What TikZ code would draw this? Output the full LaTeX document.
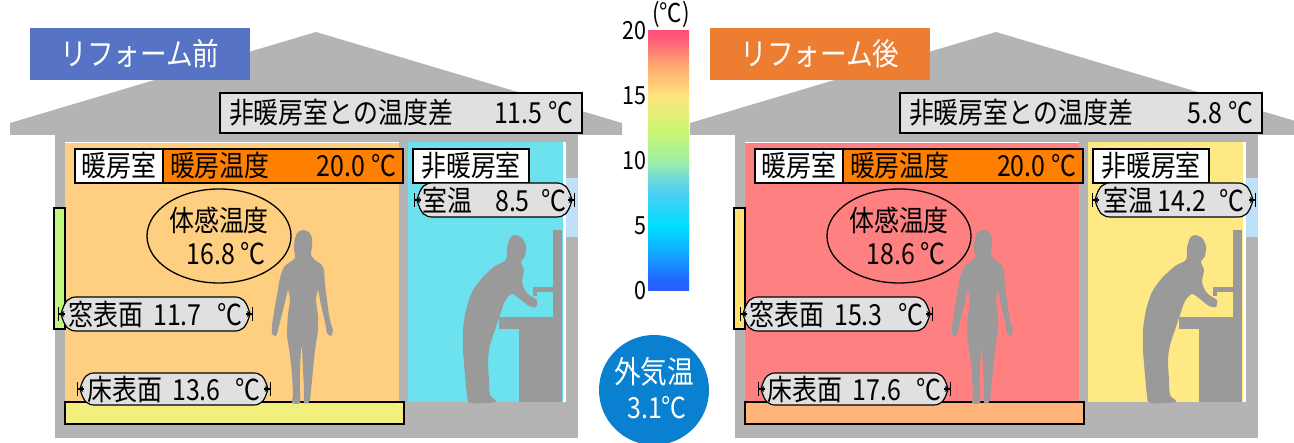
\documentclass[tikz,border=0pt]{standalone}
\usepackage{fontspec}
\setmainfont{Noto Sans CJK JP}[FakeStretch=0.86]
\usetikzlibrary{arrows.meta,shapes.geometric,calc}

% palette
\definecolor{wallgray}{HTML}{B4B4B4}
\definecolor{persongray}{HTML}{9A9A9A}
\definecolor{boxgray}{HTML}{E0E0E0}
\definecolor{heatorange}{HTML}{FF8000}
\definecolor{skyblue}{HTML}{BEE0F8}
\definecolor{titleblue}{HTML}{5673C5}
\definecolor{titleorange}{HTML}{ED7D31}
\definecolor{airblue}{HTML}{0A80D0}
\definecolor{warmA}{HTML}{FECF80}
\definecolor{coldA}{HTML}{6BE2EE}
\definecolor{floorA}{HTML}{F3EF7F}
\definecolor{winA}{HTML}{C0F77E}
\definecolor{warmB}{HTML}{FF8080}
\definecolor{coldB}{HTML}{FFE985}
\definecolor{floorB}{HTML}{FFB57A}
\definecolor{winB}{HTML}{FFE070}
% temperature scale stops
\definecolor{th0}{HTML}{2A5CFF}
\definecolor{th1}{HTML}{2266FF}
\definecolor{th2}{HTML}{12A8FF}
\definecolor{th3}{HTML}{00DEFF}
\definecolor{th4}{HTML}{4CCFF6}
\definecolor{th5}{HTML}{72DDD4}
\definecolor{th6}{HTML}{A2EFA2}
\definecolor{th7}{HTML}{CBF770}
\definecolor{th8}{HTML}{FFE37C}
\definecolor{th9}{HTML}{FFA46E}
\definecolor{th10}{HTML}{FF6078}
\definecolor{th11}{HTML}{FF5078}

\pgfdeclareverticalshading{thermo}{100bp}{%
 color(0bp)=(th0); color(25bp)=(th0); color(27.1bp)=(th1); color(32.3bp)=(th2);
 color(37.5bp)=(th3); color(43.8bp)=(th4); color(46.9bp)=(th5); color(50.2bp)=(th6);
 color(56bp)=(th7); color(62.7bp)=(th8); color(68.8bp)=(th9); color(73.1bp)=(th10);
 color(75bp)=(th11); color(100bp)=(th11)}

% walls, rooms, people and the sink of one house
\newcommand\housebody[4]{%
 \fill[wallgray] (10,135) -- (10,123) -- (316,32) -- (622,123) -- (622,135) -- cycle;
 \fill[wallgray] (55,134) rectangle (578,438);
 \fill[#1] (65,142) rectangle (399,402);
 \draw[white, line width=1.5pt] (65,142.5) -- (399,142.5);
 \fill[#2] (408,142) rectangle (563,402);
 \fill[white] (563,142) rectangle (566,402);
 \fill[skyblue] (566,178) rectangle (578,237);
 \filldraw[fill=#3, draw=black, line width=1.5pt] (65,402) rectangle (404,424);
 \filldraw[fill=#4, draw=black, line width=1.5pt] (54,208) rectangle (65,329);
 % standing woman
 \fill[person] plot[smooth cycle, tension=0.4] coordinates {
  (303,230) (309,232) (312,238) (312,247) (311,255) (316,261) (321,264) (324,270)
  (325,285) (327,300) (329,315) (331,324) (333,330) (331,336) (327,333) (325,322)
  (321,305) (318,290) (316,300) (318,316) (318,330) (315,350) (313,370) (311,390)
  (310,400) (308,403) (304,403) (304,390) (303,370) (302,348) (301,350) (300,370)
  (300,390) (300,403) (292,403) (293,395) (292,375) (290,355) (287,335) (288,315)
  (290,300) (288,290) (285,302) (281,318) (278,330) (276,336) (272,334) (272,326)
  (274,312) (277,295) (280,278) (284,267) (290,262) (295,258) (294,248) (295,238)
  (298,232)};
 % man washing at the sink
 \fill[person] plot[smooth cycle, tension=0.45] coordinates {
  (515,235) (522,238) (526,246) (525,256) (521,262) (524,270) (522,282) (526,292)
  (532,297) (537,300) (536,307) (529,306) (520,299) (512,294) (505,301) (500,315)
  (495,330) (490,345) (488,360) (489,380) (490,395) (496,402) (470,403) (467,395)
  (465,375) (463,350) (463,330) (466,310) (472,292) (482,278) (495,266) (506,260)
  (507,248) (510,238)};
 \fill[person] (553,230) rectangle (562,402);
 \fill[person] (499,317) rectangle (553,329);
 \fill[person] (519,329) rectangle (562,402);
 \fill[person] (533,287) rectangle (553,292);
 \fill[person] (533,287) rectangle (537,296);
}

% label on a dimension line: name, left end, right end, centre y, half height, text
\newcommand\thermpill[6]{%
 \pgfmathsetmacro\thpxa{#2+3}\pgfmathsetmacro\thpxb{#3-3}%
 \pgfmathsetmacro\thpk{#5*0.95}%
 \pgfmathsetmacro\thptop{#4-#5}\pgfmathsetmacro\thpbot{#4+#5}%
 \path[pillshape] (\thpxa,#4)
   .. controls (\thpxa+0.25*\thpk,#4-0.85*#5) and (\thpxa+0.5*\thpk,\thptop) .. (\thpxa+\thpk,\thptop)
   -- (\thpxb-\thpk,\thptop)
   .. controls (\thpxb-0.5*\thpk,\thptop) and (\thpxb-0.25*\thpk,#4-0.85*#5) .. (\thpxb,#4)
   .. controls (\thpxb-0.25*\thpk,#4+0.85*#5) and (\thpxb-0.5*\thpk,\thpbot) .. (\thpxb-\thpk,\thpbot)
   -- (\thpxa+\thpk,\thpbot)
   .. controls (\thpxa+0.5*\thpk,\thpbot) and (\thpxa+0.25*\thpk,#4+0.85*#5) .. cycle;
 \coordinate (#1-l) at (#2,#4);
 \coordinate (#1-li) at (#2+7,#4);
 \coordinate (#1-r) at (#3,#4);
 \coordinate (#1-ri) at (#3-7,#4);
 \draw[dimtip] (#1-li) -- (#1-l);
 \draw[dimtip] (#1-ri) -- (#1-r);
 \node[jp] (#1) at ({(#2+#3)/2},#4) {#6};
}

\tikzset{
 jp/.style={font=\fontsize{29}{33}\selectfont, inner sep=0pt, text=black},
 infobox/.style={jp, draw=black, line width=1.5pt, minimum height=34pt},
 diffbox/.style={jp, draw=black, fill=boxgray, line width=2pt, minimum width=362pt, minimum height=40pt},
 titlebox/.style={font=\fontsize{31}{35}\selectfont, text=white, inner sep=0pt, minimum width=220pt, minimum height=52pt},
 pillshape/.style={fill=boxgray, draw=black, line width=1.2pt},
 dimtip/.style={line width=1.1pt, -{Stealth[length=5pt,width=6pt]Bar[width=14pt,line width=1.3pt]}},
 person/.style={fill=persongray},
 feelring/.style={draw=black, line width=1.3pt, ellipse, minimum width=144pt, minimum height=94pt, inner sep=0pt},
 ticklabel/.style={font=\fontsize{25}{28}\selectfont, inner sep=0pt, anchor=east},
}

\begin{document}
\begin{tikzpicture}[x=1pt,y=-1pt]
\useasboundingbox (0,0) rectangle (1294,443);
\clip (0,0) rectangle (1294,443);
\fill[white] (0,0) rectangle (1294,443);

% ---------------- before the renovation ----------------
\housebody{warmA}{coldA}{floorA}{winA}
\node[titlebox, fill=titleblue] (L-title) at (140,54) {リフォーム前};
\node[diffbox] (L-diff) at (401,113) {\makebox[344pt]{非暖房室との温度差\hfill 11.5 ℃}};
\node[infobox, fill=white, minimum width=88pt] (L-warm) at (119,166) {暖房室};
\node[infobox, fill=heatorange, minimum width=240pt] (L-set) at (283,166) {\makebox[226pt]{暖房温度\hfill 20.0 ℃}};
\node[infobox, fill=white, minimum width=116pt] (L-cold) at (471,166) {非暖房室};
\thermpill{L-room}{414}{575}{200}{17}{室温\hspace{23pt}8.5\hspace{12pt}℃}
\node[feelring] (L-feel) at (219,236) {};
\node[jp, align=center] (L-feeltext) at (L-feel.center) {体感温度\\\hspace*{14pt}16.8 ℃};
\thermpill{L-win}{58}{253}{314}{17}{窓表面\hspace{10pt}11.7\hspace{16pt}℃}
\thermpill{L-floor}{77}{271}{389}{16}{床表面\hspace{10pt}13.6\hspace{15pt}℃}

% ---------------- after the renovation ----------------
\begin{scope}[xshift=680pt]
\housebody{warmB}{coldB}{floorB}{winB}
\node[titlebox, fill=titleorange] (R-title) at (140,54) {リフォーム後};
\node[diffbox] (R-diff) at (401,113) {\makebox[344pt]{非暖房室との温度差\hfill 5.8 ℃}};
\node[infobox, fill=white, minimum width=88pt] (R-warm) at (119,166) {暖房室};
\node[infobox, fill=heatorange, minimum width=240pt] (R-set) at (283,166) {\makebox[226pt]{暖房温度\hfill 20.0 ℃}};
\node[infobox, fill=white, minimum width=116pt] (R-cold) at (471,166) {非暖房室};
\thermpill{R-room}{412}{576}{200}{17}{室温\hspace{4pt}14.2\hspace{13pt}℃}
\node[feelring] (R-feel) at (219,236) {};
\node[jp, align=center] (R-feeltext) at (R-feel.center) {体感温度\\\hspace*{14pt}18.6 ℃};
\thermpill{R-win}{60}{253}{314}{17}{窓表面\hspace{10pt}15.3\hspace{16pt}℃}
\thermpill{R-floor}{78}{271}{389}{16}{床表面\hspace{10pt}17.6\hspace{15pt}℃}
\end{scope}

% ---------------- temperature scale ----------------
\node[shade, shading=thermo, minimum width=41pt, minimum height=260pt, inner sep=0pt] (scale) at (668.5,161) {};
\node[ticklabel] (t20) at (647,31) {20};
\node[ticklabel] (t15) at (647,96) {15};
\node[ticklabel] (t10) at (647,161) {10};
\node[ticklabel] (t5) at (647,226) {5};
\node[ticklabel] (t0) at (647,291) {0};
\node[font=\fontsize{26}{28}\selectfont, inner sep=0pt] (unit) at (671,14) {(℃)};

% ---------------- outdoor air ----------------
\node[circle, fill=airblue, minimum size=110pt, inner sep=0pt] (air) at (654,390) {};
\node[font=\fontsize{31}{35}\selectfont, text=white, inner sep=0pt] (air-a) at (654,372) {外気温};
\node[font=\fontsize{29}{33}\selectfont, text=white, inner sep=0pt] (air-b) at (657,408) {3.1℃};
\end{tikzpicture}
\end{document}
